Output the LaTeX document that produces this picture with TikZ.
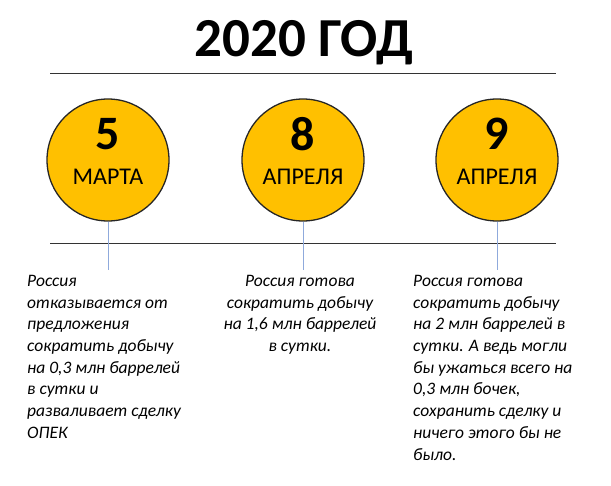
\documentclass[tikz,border=0pt]{standalone}
\usepackage{fontspec}
\setmainfont{Carlito}
\begin{document}
\begin{tikzpicture}[x=1pt,y=-1pt,
  circ/.style={circle,draw=black!85,line width=1.3pt,fill=yellowc,minimum size=122pt},
  conn/.style={draw=bluec,line width=0.8pt},
  txt/.style={font=\fontsize{17.5}{21.7}\selectfont\itshape,inner sep=0pt,anchor=north west}]
\definecolor{yellowc}{HTML}{FFC000}
\definecolor{bluec}{HTML}{8FAADC}
\useasboundingbox (0,0) rectangle (611,486);
\node[font=\fontsize{55}{55}\selectfont\bfseries] (title) at (304,43) {2020 ГОД};
\draw[black!80,line width=0.8pt] (50,73) -- (556,73);
\draw[black!80,line width=0.8pt] (50,243) -- (556,243);
\foreach \n/\x/\d/\m in {a/108/5/МАРТА,b/303/8/АПРЕЛЯ,c/497/9/АПРЕЛЯ}{
  \node[circ] (\n) at (\x,160) {};
  \node[font=\fontsize{48}{48}\selectfont\bfseries] at (\x,134) {\d};
  \node[font=\fontsize{24}{24}\selectfont] at (\x,177) {\m};
  \coordinate (\n e) at (\x,270);
  \draw[conn] (\n.south) -- (\n e);
}
\node[txt,align=left] (ta) at (27,275) {Россия\\отказывается от\\предложения\\сократить добычу\\на 0,3 млн баррелей\\в сутки и\\разваливает сделку\\ОПЕК};
\node[txt,anchor=north,align=center] (tb) at (300,275) {Россия готова\\сократить добычу\\на 1,6 млн баррелей\\в сутки.};
\node[txt,align=left] (tc) at (413,275) {Россия готова\\сократить добычу\\на 2 млн баррелей в\\сутки. А ведь могли\\бы ужаться всего на\\0,3 млн бочек,\\сохранить сделку и\\ничего этого бы не\\было.};
\end{tikzpicture}
\end{document}
